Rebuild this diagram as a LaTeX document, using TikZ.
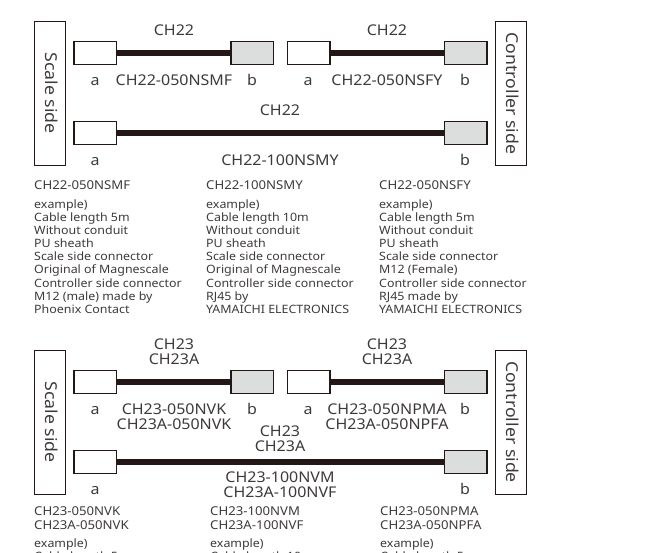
\documentclass[tikz,border=0pt]{standalone}
\usepackage{fontspec}
\setmainfont{Noto Sans}
\newfontfamily\widesans[FakeStretch=1.08]{Noto Sans}
\definecolor{ink}{HTML}{231815}
\definecolor{txt}{HTML}{3E3A39}
\definecolor{gry}{HTML}{DCDDDD}
\tikzset{
  conn/.style={draw=ink,line width=1.2pt,minimum width=42.5pt,minimum height=23.5pt,inner sep=0pt},
  connA/.style={conn,fill=white},
  connB/.style={conn,fill=gry},
  cable/.style={draw=ink,line width=6pt},
  side/.style={draw=ink,line width=0.8pt,minimum width=31pt,minimum height=144pt,inner sep=0pt},
  sidetxt/.style={text=txt,font=\widesans\fontsize{16.4}{18}\selectfont,rotate=-90,inner sep=0pt},
  lbl/.style={text=txt,font=\widesans\fontsize{14.8}{16}\selectfont,anchor=base,inner sep=0pt},
  note/.style={text=txt,font=\widesans\fontsize{11.5}{13.1}\selectfont,anchor=base west,inner sep=0pt,align=left},
  head/.style={note,font=\widesans\fontsize{12.2}{13.1}\selectfont},
}
\begin{document}
\begin{tikzpicture}[x=1pt,y=-1pt]
\useasboundingbox (0,0) rectangle (648,553);
\clip (0,0) rectangle (648,553);
% ---- CH22 ----
\node[side] (s1) at (49.5,93.5) {};
\node[side] (c1) at (511,93.5) {};
\node[sidetxt] (s1t) at (51.5,93) {Scale side};
\node[sidetxt] (c1t) at (512.5,93.5) {Controller side};
\node[connA] (a1) at (95.2,53) {};
\node[connB] (b1) at (252.2,53) {};
\node[connA] (a2) at (308.7,53) {};
\node[connB] (b2) at (465.7,53) {};
\node[connA] (a3) at (95.2,133) {};
\node[connB] (b3) at (465.7,133) {};
\draw[cable] (a1) -- (b1);
\draw[cable] (a2) -- (b2);
\draw[cable] (a3) -- (b3);
\node[lbl] (l1) at (174,36) {CH22};
\node[lbl] (l2) at (387,36) {CH22};
\node[lbl] (l3) at (280,116) {CH22};
\node[lbl] (la1) at (95,86) {a};
\node[lbl] (lb1) at (252,86) {b};
\node[lbl] (la2) at (308,86) {a};
\node[lbl] (lb2) at (465,86) {b};
\node[lbl] (lm1) at (174,86) {CH22-050NSMF};
\node[lbl] (lm2) at (387,86) {CH22-050NSFY};
\node[lbl] (la3) at (95,166) {a};
\node[lbl] (lb3) at (465,166) {b};
\node[lbl] (lm3) at (280,166) {CH22-100NSMY};
\node[head] (n1t) at (34,190) {CH22-050NSMF};
\node[head] (n2t) at (206,190) {CH22-100NSMY};
\node[head] (n3t) at (379,190) {CH22-050NSFY};
\node[note,anchor=north west] (n1) at (34,199.5) {example)\\Cable length 5m\\Without conduit\\PU sheath\\Scale side connector\\Original of Magnescale\\Controller side connector\\M12 (male) made by\\Phoenix Contact};
\node[note,anchor=north west] (n2) at (206,199.5) {example)\\Cable length 10m\\Without conduit\\PU sheath\\Scale side connector\\Original of Magnescale\\Controller side connector\\RJ45 by\\YAMAICHI ELECTRONICS};
\node[note,anchor=north west] (n3) at (379,199.5) {example)\\Cable length 5m\\Without conduit\\PU sheath\\Scale side connector\\M12 (Female)\\Controller side connector\\RJ45 made by\\YAMAICHI ELECTRONICS};
% ---- CH23 ----
\node[side] (s2) at (49.5,422) {};
\node[side] (c2) at (511,422) {};
\node[sidetxt] (s2t) at (51.5,422) {Scale side};
\node[sidetxt] (c2t) at (512.5,422) {Controller side};
\node[connA] (a4) at (95.2,382) {};
\node[connB] (b4) at (252.2,382) {};
\node[connA] (a5) at (308.7,382) {};
\node[connB] (b5) at (465.7,382) {};
\node[connA] (a6) at (95.2,462) {};
\node[connB] (b6) at (465.7,462) {};
\draw[cable] (a4) -- (b4);
\draw[cable] (a5) -- (b5);
\draw[cable] (a6) -- (b6);
\node[lbl] (p1) at (174,349) {CH23};
\node[lbl] (p1a) at (174,364.5) {CH23A};
\node[lbl] (p2) at (387,349) {CH23};
\node[lbl] (p2a) at (387,364.5) {CH23A};
\node[lbl] (p3) at (280,436.5) {CH23};
\node[lbl] (p3a) at (280,451.5) {CH23A};
\node[lbl] (qa1) at (95,414) {a};
\node[lbl] (qb1) at (252,414) {b};
\node[lbl] (qa2) at (308,414) {a};
\node[lbl] (qb2) at (465,414) {b};
\node[lbl] (qm1) at (174,414) {CH23-050NVK};
\node[lbl] (qm1a) at (174,429) {CH23A-050NVK};
\node[lbl] (qm2) at (387,414) {CH23-050NPMA};
\node[lbl] (qm2a) at (387,429) {CH23A-050NPFA};
\node[lbl] (qa3) at (95,494) {a};
\node[lbl] (qb3) at (465,494) {b};
\node[lbl] (qm3) at (280,482) {CH23-100NVM};
\node[lbl] (qm3a) at (280,497) {CH23A-100NVF};
\node[head] (r1t) at (34,515) {CH23-050NVK};
\node[head] (r1u) at (34,529) {CH23A-050NVK};
\node[head] (r2t) at (210,515) {CH23-100NVM};
\node[head] (r2u) at (210,529) {CH23A-100NVF};
\node[head] (r3t) at (380,515) {CH23-050NPMA};
\node[head] (r3u) at (380,529) {CH23A-050NPFA};
\node[note] (r1) at (34,547) {example)};
\node[note] (r1c) at (34,560) {Cable length 5m};
\node[note] (r2) at (210,547) {example)};
\node[note] (r2c) at (210,560) {Cable length 10m};
\node[note] (r3) at (380,547) {example)};
\node[note] (r3c) at (380,560) {Cable length 5m};
\end{tikzpicture}
\end{document}
